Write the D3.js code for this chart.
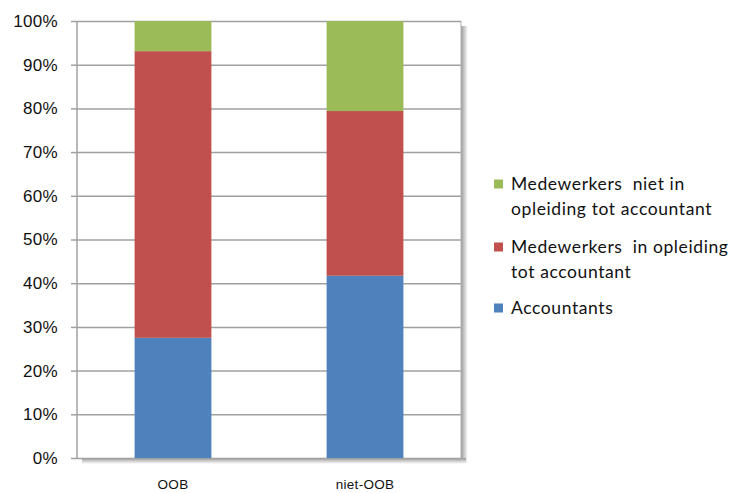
<!DOCTYPE html>
<html>
<head>
<meta charset="utf-8">
<script src="https://cdn.jsdelivr.net/npm/d3@7"></script>
<style>
  html, body { margin: 0; padding: 0; background: #fff; }
  svg { display: block; font-family: Lato, "Open Sans", "Liberation Sans", sans-serif; }
</style>
</head>
<body>
<svg id="chart" width="732" height="493"></svg>
<script>
// Share of staff per firm type (percent, stacked to 100%)
const categories = ["OOB", "niet-OOB"];
const seriesNames = [
  "Accountants",
  "Medewerkers in opleiding tot accountant",
  "Medewerkers niet in opleiding tot accountant"
];
const accountants = [27.5, 41.7];
const inOpleiding = [65.6, 37.7];
const nietInOpleiding = [6.9, 20.6];
const yTicks = [0, 10, 20, 30, 40, 50, 60, 70, 80, 90, 100];
const legendLines = [
  ["Medewerkers  niet in", "opleiding tot accountant"],
  ["Medewerkers  in opleiding", "tot accountant"],
  ["Accountants"]
];
const colors = ["#4F81BD", "#C0504D", "#9BBB59"];

const svg = d3.select("#chart");
const plot = { left: 77, right: 461, top: 21, bottom: 458 };

const rows = categories.map((c, i) => ({
  cat: c,
  [seriesNames[0]]: accountants[i],
  [seriesNames[1]]: inOpleiding[i],
  [seriesNames[2]]: nietInOpleiding[i]
}));
const stacked = d3.stack().keys(seriesNames)(rows);

const x = d3.scaleBand().domain(categories).range([plot.left, plot.right]).paddingInner(0.6).paddingOuter(0.3);
const y = d3.scaleLinear().domain([0, 100]).range([plot.bottom, plot.top]);

// Drop shadow along the right and bottom of the plot area
const defs = svg.append("defs");
const gR = defs.append("linearGradient").attr("id", "shR").attr("x1", 0).attr("x2", 1).attr("y1", 0).attr("y2", 0);
gR.append("stop").attr("offset", 0).attr("stop-color", "#9a9a9a");
gR.append("stop").attr("offset", 1).attr("stop-color", "#ffffff");
const gB = defs.append("linearGradient").attr("id", "shB").attr("x1", 0).attr("x2", 0).attr("y1", 0).attr("y2", 1);
gB.append("stop").attr("offset", 0).attr("stop-color", "#9a9a9a");
gB.append("stop").attr("offset", 1).attr("stop-color", "#ffffff");
svg.append("rect").attr("x", plot.right).attr("y", plot.top + 5).attr("width", 7).attr("height", plot.bottom - plot.top).attr("fill", "url(#shR)");
svg.append("rect").attr("x", plot.left + 5).attr("y", plot.bottom).attr("width", plot.right - plot.left).attr("height", 6).attr("fill", "url(#shB)");

// Gridlines and y axis
const yAxis = d3.axisLeft(y).tickValues(yTicks).tickFormat(d => d + "%").tickSize(-(plot.right - plot.left)).tickPadding(19);
const ga = svg.append("g").attr("transform", `translate(${plot.left},0)`).call(yAxis);
ga.select(".domain").remove();
ga.selectAll(".tick line").attr("stroke", "#a0a0a0").attr("stroke-width", 1.5);
ga.selectAll(".tick").append("line").attr("x1", -6).attr("x2", 0).attr("stroke", "#a0a0a0").attr("stroke-width", 1.5);
ga.selectAll(".tick text").attr("font-size", 17).attr("letter-spacing", 0.3).attr("fill", "#111");

svg.append("line").attr("x1", plot.left).attr("x2", plot.left).attr("y1", plot.top).attr("y2", plot.bottom)
  .attr("stroke", "#a0a0a0").attr("stroke-width", 1.5);
svg.append("line").attr("x1", plot.right).attr("x2", plot.right).attr("y1", plot.top).attr("y2", plot.bottom)
  .attr("stroke", "#b0b0b0").attr("stroke-width", 1);

// Stacked bars
svg.append("g").selectAll("g").data(stacked).join("g")
  .attr("fill", (d, i) => colors[i])
  .selectAll("rect").data(d => d).join("rect")
  .attr("x", d => x(d.data.cat))
  .attr("y", d => y(d[1]))
  .attr("width", x.bandwidth())
  .attr("height", d => y(d[0]) - y(d[1]));

// Category labels
const xAxis = d3.axisBottom(x).tickSize(0).tickPadding(21);
const gx = svg.append("g").attr("transform", `translate(0,${plot.bottom})`).call(xAxis);
gx.select(".domain").remove();
gx.selectAll(".tick text").attr("font-size", 13.5).attr("letter-spacing", 0.3).attr("fill", "#111");

// Legend (top entry is the top stack segment)
const legendY = [184, 247, 308];
const leg = svg.append("g");
[2, 1, 0].forEach((si, k) => {
  const g = leg.append("g");
  g.append("rect").attr("x", 494).attr("y", legendY[k] - 4.5).attr("width", 9).attr("height", 9).attr("fill", colors[si]);
  const t = g.append("text").attr("x", 511).attr("y", legendY[k] + 6).attr("font-size", 17.5)
    .attr("letter-spacing", 0.6).attr("fill", "#111");
  legendLines[k].forEach((line, j) => {
    t.append("tspan").attr("x", 511).attr("dy", j === 0 ? 0 : 25).attr("xml:space", "preserve").text(line);
  });
});
</script>
</body>
</html>
